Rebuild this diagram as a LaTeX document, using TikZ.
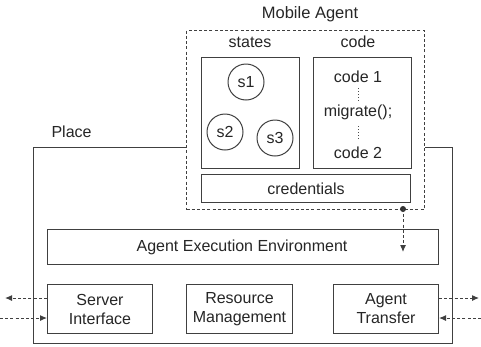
\documentclass[tikz,border=0pt]{standalone}
\usepackage{fontspec}
\setmainfont{Liberation Sans}
\usetikzlibrary{arrows.meta}
\begin{document}
\begin{tikzpicture}[x=1pt,y=-1pt,
  every node/.style={font=\fontsize{16}{18}\selectfont, text=black!85},
  box/.style={draw=black!75, line width=1pt, inner sep=0pt},
  dashbox/.style={draw=black!75, line width=1pt, dash pattern=on 3pt off 2.2pt},
  st/.style={draw=black!75, line width=1pt, circle, minimum size=36pt, inner sep=0pt},
  arr/.style={dash pattern=on 3pt off 2.2pt, line width=1pt, draw=black!75, -{Latex[length=7pt,width=6pt]}}
]
\useasboundingbox (0,0) rectangle (481,346);
\fill[white] (0,0) rectangle (481,346);
% Place
\node[box, minimum width=419pt, minimum height=196pt, anchor=north west] (place) at (33,147) {};
\node[anchor=west] (placelbl) at (48,132) {Place};
% Mobile agent
\node[dashbox, fill=white, minimum width=238pt, minimum height=179pt, anchor=north west, inner sep=0pt] (ma) at (186,30) {};
\node[font=\fontsize{16.5}{18}\selectfont] (malbl) at (310,14) {Mobile Agent};
\node (stlbl) at (250,42) {states};
\node (codelbl) at (358,42) {code};
\node[box, minimum width=98pt, minimum height=111pt, anchor=north west] (states) at (201,57) {};
\node[box, minimum width=98pt, minimum height=111pt, anchor=north west] (code) at (313,57) {};
\node[st] (s1) at (246,82) {s1};
\node[st] (s2) at (225,132) {s2};
\node[st] (s3) at (275,138) {s3};
\node (c1) at (358,77) {code 1};
\node (mig) at (358,112) {migrate();};
\node (c2) at (358,153) {code 2};
\draw[black!70, line width=1pt, dash pattern=on 1.2pt off 1.8pt] (358,88) -- (358,101);
\draw[black!70, line width=1pt, dash pattern=on 1.2pt off 1.8pt] (358,126) -- (358,140);
\node[box, minimum width=209pt, minimum height=28pt, anchor=north west] (cred) at (201,174) {};
\node (credlbl) at (cred.center) {credentials};
% Place components
\node[box, minimum width=391pt, minimum height=35pt, anchor=north west] (aee) at (47,229) {};
\node (aeelbl) at (242,247) {Agent Execution Environment};
\node[box, minimum width=105pt, minimum height=49pt, anchor=north west, align=center] (si) at (47,284) {};
\node[align=center, font=\fontsize{16}{19}\selectfont] at (si.center) {Server\\Interface};
\node[box, minimum width=106pt, minimum height=49pt, anchor=north west] (rm) at (186,284) {};
\node[align=center, font=\fontsize{16}{19}\selectfont] at (rm.center) {Resource\\Management};
\node[box, minimum width=105pt, minimum height=49pt, anchor=north west] (at) at (333,284) {};
\node[align=center, font=\fontsize{16}{19}\selectfont] at (at.center) {Agent\\Transfer};
% dot and arrow
\coordinate (dot) at (403,209);
\coordinate (aeein) at (403,252);
\fill[black!80] (dot) circle (3pt);
\draw[arr] (dot) -- (aeein);
% external arrows
\coordinate (lo) at (5,298);
\coordinate (li) at (0,318);
\coordinate (ro) at (479,298);
\coordinate (ri) at (481,318);
\draw[arr] (si.west |- 0,298) -- (lo);
\draw[arr] (li) -- (si.west |- 0,318);
\draw[arr] (at.east |- 0,298) -- (ro);
\draw[arr] (ri) -- (at.east |- 0,318);
\end{tikzpicture}
\end{document}
